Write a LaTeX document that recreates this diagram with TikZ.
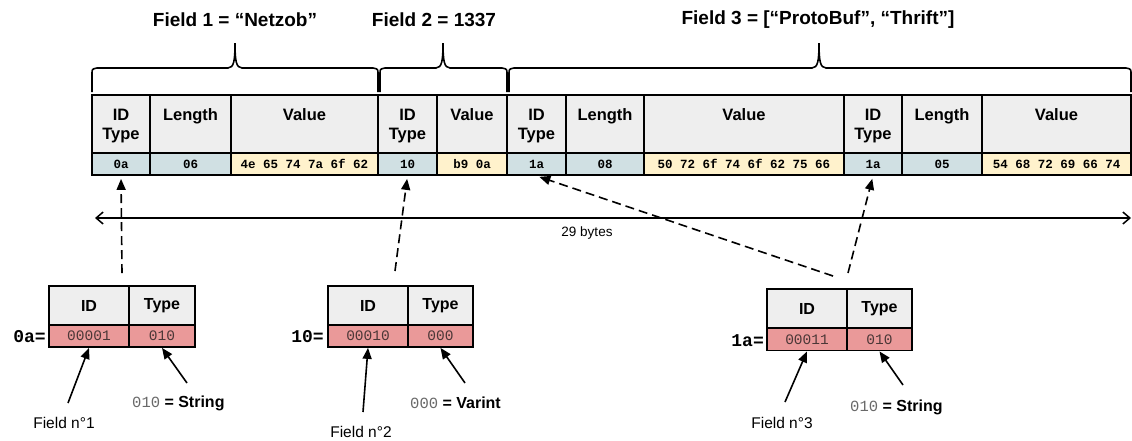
\documentclass[tikz,border=0pt]{standalone}
\usepackage{fontspec}
\setmainfont{Liberation Sans}
\setmonofont{Liberation Mono}
\usepackage{xcolor}
\usepackage{tikz}
\usetikzlibrary{arrows.meta}

\definecolor{hdrgray}{RGB}{238,238,238}
\definecolor{keyblue}{RGB}{208,224,227}
\definecolor{valyellow}{RGB}{255,242,204}
\definecolor{bitpink}{RGB}{234,153,153}
\definecolor{bittext}{RGB}{75,55,55}
\definecolor{codegray}{RGB}{105,105,105}

\newcommand{\idtype}{\begin{tabular}[t]{@{}c@{}}ID\\Type\end{tabular}}

\begin{document}
\begin{tikzpicture}[x=1pt, y=-1pt,
	hdr/.style={draw=black, line width=1.8pt, fill=hdrgray, inner sep=0pt, minimum height=58pt, text height=25pt, text depth=33pt, font=\fontsize{16.5}{19}\selectfont\bfseries},
	hexcell/.style={draw=black, line width=1.8pt, inner sep=0pt, minimum height=22pt, font=\fontsize{12.5}{14}\selectfont\ttfamily\bfseries},
	keycell/.style={hexcell, fill=keyblue},
	datacell/.style={hexcell, fill=valyellow},
	bithdr/.style={draw=black, line width=1.8pt, fill=hdrgray, inner sep=0pt, minimum height=39pt, font=\fontsize{16}{19}\selectfont\bfseries},
	bitcell/.style={draw=black, line width=1.8pt, fill=bitpink, inner sep=0pt, minimum height=22pt, text=bittext, font=\fontsize{14.5}{16}\selectfont\ttfamily},
	bitname/.style={anchor=east, inner sep=0pt, font=\fontsize{18}{20}\selectfont\ttfamily\bfseries},
	title/.style={inner sep=0pt, font=\fontsize{19}{22}\selectfont\bfseries},
	note/.style={inner sep=0pt, font=\fontsize{15.5}{18}\selectfont},
	typenote/.style={anchor=west, inner sep=0pt, font=\fontsize{16}{18}\selectfont},
	fieldbrace/.style={line width=1.6pt},
	ptr/.style={line width=1.6pt, -{Triangle[length=11pt, width=9pt]}},
	dptr/.style={ptr, dash pattern=on 9pt off 5pt, shorten >=3pt},
	span/.style={line width=1.5pt, {Straight Barb[length=7pt, width=12pt]}-{Straight Barb[length=7pt, width=12pt]}}]
	\useasboundingbox (0, 0) rectangle (1132, 440);

	\node [title] (t1) at (235, 20) {Field 1 = “Netzob”};
	\node [title] (t2) at (434, 20) {Field 2 = 1337};
	\node [title] (t3) at (818, 20) {Field 3 = [“ProtoBuf”, “Thrift”]};

	\draw [fieldbrace] (92, 92) -- (92, 74) .. controls (92, 69) .. (97, 68) -- (228, 68) .. controls (234, 68) and (235, 60) .. (235, 43) .. controls (235, 60) and (236, 68) .. (242, 68) -- (373, 68) .. controls (378, 69) .. (378, 74) -- (378, 92);
	\draw [fieldbrace] (380, 92) -- (380, 74) .. controls (380, 69) .. (385, 68) -- (436, 68) .. controls (442, 68) and (443, 60) .. (443, 43) .. controls (443, 60) and (444, 68) .. (450, 68) -- (502, 68) .. controls (507, 69) .. (507, 74) -- (507, 92);
	\draw [fieldbrace] (509, 92) -- (509, 74) .. controls (509, 69) .. (514, 68) -- (812, 68) .. controls (818, 68) and (819, 60) .. (819, 43) .. controls (819, 60) and (820, 68) .. (826, 68) -- (1126, 68) .. controls (1131, 69) .. (1131, 74) -- (1131, 92);

	\node [hdr, minimum width=58pt] (h1) at (121, 124) {\idtype};
	\node [hdr, minimum width=81pt] (h2) at (190.5, 124) {Length};
	\node [hdr, minimum width=147pt] (h3) at (304.5, 124) {Value};
	\node [hdr, minimum width=59pt] (h4) at (407.5, 124) {\idtype};
	\node [hdr, minimum width=70pt] (h5) at (472, 124) {Value};
	\node [hdr, minimum width=59pt] (h6) at (536.5, 124) {\idtype};
	\node [hdr, minimum width=78pt] (h7) at (605, 124) {Length};
	\node [hdr, minimum width=200pt] (h8) at (744, 124) {Value};
	\node [hdr, minimum width=58pt] (h9) at (873, 124) {\idtype};
	\node [hdr, minimum width=80pt] (h10) at (942, 124) {Length};
	\node [hdr, minimum width=149pt] (h11) at (1056.5, 124) {Value};

	\node [keycell, minimum width=58pt] (v1) at (121, 164) {0a};
	\node [keycell, minimum width=81pt] (v2) at (190.5, 164) {06};
	\node [datacell, minimum width=147pt] (v3) at (304.5, 164) {4e 65 74 7a 6f 62};
	\node [keycell, minimum width=59pt] (v4) at (407.5, 164) {10};
	\node [datacell, minimum width=70pt] (v5) at (472, 164) {b9 0a};
	\node [keycell, minimum width=59pt] (v6) at (536.5, 164) {1a};
	\node [keycell, minimum width=78pt] (v7) at (605, 164) {08};
	\node [datacell, minimum width=200pt] (v8) at (744, 164) {50 72 6f 74 6f 62 75 66};
	\node [keycell, minimum width=58pt] (v9) at (873, 164) {1a};
	\node [keycell, minimum width=80pt] (v10) at (942, 164) {05};
	\node [datacell, minimum width=149pt] (v11) at (1056.5, 164) {54 68 72 69 66 74};

	\coordinate (spanl) at (95, 218);
	\coordinate (spanr) at (1131, 218);
	\draw [span] (spanl) to (spanr);
	\node [note, font=\fontsize{13.5}{16}\selectfont] (bytes) at (587, 233) {29 bytes};

	\node [bithdr, minimum width=80pt] (id1) at (89, 305.5) {ID};
	\node [bithdr, minimum width=66pt] (ty1) at (162, 305.5) {Type};
	\node [bitcell, minimum width=80pt] (bid1) at (89, 336) {00001};
	\node [bitcell, minimum width=66pt] (bty1) at (162, 336) {010};
	\node [bitname] (eq1) at (46, 337) {0a=};

	\node [bithdr, minimum width=80pt] (id2) at (368, 305.5) {ID};
	\node [bithdr, minimum width=65pt] (ty2) at (440.5, 305.5) {Type};
	\node [bitcell, minimum width=80pt] (bid2) at (368, 336) {00010};
	\node [bitcell, minimum width=65pt] (bty2) at (440.5, 336) {000};
	\node [bitname] (eq2) at (324, 337) {10=};

	\node [bithdr, minimum width=80pt] (id3) at (807, 308.5) {ID};
	\node [bithdr, minimum width=65pt] (ty3) at (879.5, 308.5) {Type};
	\node [bitcell, minimum width=80pt] (bid3) at (807, 339.5) {00011};
	\node [bitcell, minimum width=65pt] (bty3) at (879.5, 339.5) {010};
	\node [bitname] (eq3) at (764, 341) {1a=};

	\node [note] (f1) at (64, 423) {Field n°1};
	\node [typenote] (s1) at (132, 403) {{\color{codegray}\ttfamily\fontsize{15.5}{18}\selectfont 010} \textbf{= String}};
	\node [note] (f2) at (361, 432) {Field n°2};
	\node [typenote] (s2) at (410, 403) {{\color{codegray}\ttfamily\fontsize{15.5}{18}\selectfont 000} \textbf{= Varint}};
	\node [note] (f3) at (782, 423) {Field n°3};
	\node [typenote] (s3) at (850, 407) {{\color{codegray}\ttfamily\fontsize{15.5}{18}\selectfont 010} \textbf{= String}};

	\coordinate (d1) at (122, 273);
	\coordinate (d2) at (395, 271);
	\coordinate (d3) at (833, 276);
	\coordinate (d4) at (848, 273);
	\draw [dptr] (d1) to (v1.south);
	\draw [dptr] (d2) to (v4.south);
	\draw [dptr] (d3) to (v6.south);
	\draw [dptr] (d4) to (v9.south);

	\coordinate (p1) at (68, 403);
	\coordinate (q1) at (187, 383);
	\coordinate (p2) at (363, 412);
	\coordinate (q2) at (465, 383);
	\coordinate (p3) at (785, 402);
	\coordinate (q3) at (903, 385);
	\draw [ptr] (p1) to (bid1.south);
	\draw [ptr] (q1) to (bty1.south);
	\draw [ptr] (p2) to (bid2.south);
	\draw [ptr] (q2) to (bty2.south);
	\draw [ptr] (p3) to (bid3.south);
	\draw [ptr] (q3) to (bty3.south);
\end{tikzpicture}
\end{document}
